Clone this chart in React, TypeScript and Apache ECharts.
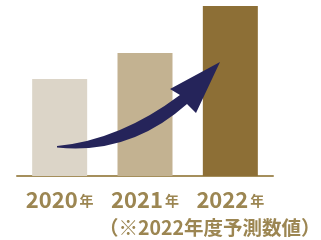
import React, { useEffect, useRef } from "react";
import * as echarts from "echarts";

const categories = ["2020", "2021", "2022"];
const values = [97, 123, 170];
const barColors = ["#dcd5c8", "#c3b291", "#8d6f36"];
const note = "（※2022年度予測数値）";

const arrowPath =
  "M57,146 Q120,140 180,95 L170,89 L220,62 L196,113 L187,104 Q130,155 57,147.5 Z";

let registered = false;

export default function App() {
  const ref = useRef<HTMLDivElement>(null);
  useEffect(() => {
    if (!ref.current) return;
    if (!registered) {
      echarts.graphic.registerShape("arrowShape", echarts.graphic.extendPath(arrowPath, {}) as any);
      registered = true;
    }
    const chart = echarts.init(ref.current, null, { renderer: "svg" });
    const font = '"Noto Sans CJK JP", "Noto Sans", sans-serif';
    chart.setOption({
      animation: false,
      grid: { left: 17, right: 48, top: 6, bottom: 64 },
      xAxis: {
        type: "category",
        data: categories,
        axisLine: { lineStyle: { color: "#a58f5c", width: 2 } },
        axisTick: { show: false },
        axisLabel: {
          interval: 0,
          hideOverlap: false,
          margin: 11,
          color: "#9c8652",
          fontFamily: font,
          formatter: (v: string) => `{y|${v}}{n|年}`,
          rich: {
            y: { fontSize: 22, fontWeight: "bold", fontFamily: font, color: "#9c8652" },
            n: { fontSize: 14, fontWeight: "bold", fontFamily: font, color: "#9c8652", padding: [4, 0, 0, 2] },
          },
        },
      },
      yAxis: { type: "value", min: 0, max: 170, show: false },
      series: [
        {
          type: "bar",
          barWidth: 55,
          data: values.map((v, i) => ({ value: v, itemStyle: { color: barColors[i] } })),
        },
      ],
      graphic: [
        {
          type: "arrowShape",
          x: 0,
          y: 0,
          z: 10,
          style: { fill: "#25245a" },
        },
        {
          type: "text",
          left: 99,
          top: 217,
          z: 10,
          style: {
            text: note,
            fill: "#9c8652",
            font: `bold 19.5px ${font}`,
          },
        },
      ],
    });
    return () => chart.dispose();
  }, []);
  return <div ref={ref} style={{ position: "fixed", left: 0, top: 0, width: 321, height: 240 }} />;
}
